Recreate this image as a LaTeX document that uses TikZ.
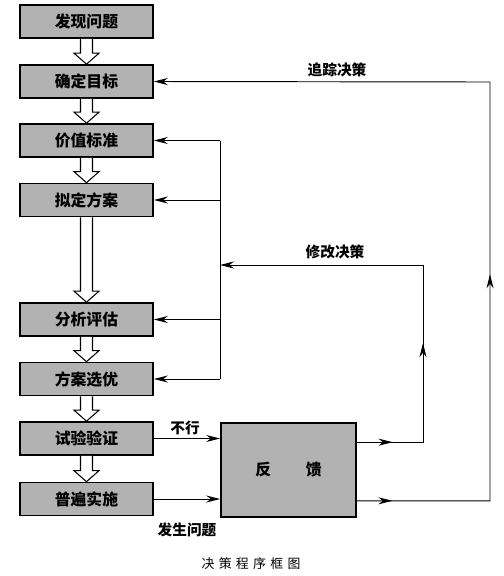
\documentclass[tikz,border=0pt]{standalone}
\usepackage{fontspec}
\newfontfamily\cjk{Noto Sans CJK SC}
\usetikzlibrary{arrows.meta,positioning,calc,decorations.markings}

% hollow block arrow from the bottom of one stage to the top of the next
\newcommand{\hollowarrow}[2]{%
  \draw[line width=0.9pt, fill=white]
    ($(#1.south)+(-6,0)$) -- ($(#2.north)+(-6,-11)$) -- ($(#2.north)+(-12.5,-11)$)
    -- (#2.north) -- ($(#2.north)+(12.5,-11)$) -- ($(#2.north)+(6,-11)$)
    -- ($(#1.south)+(6,0)$);}

\begin{document}
\begin{tikzpicture}[x=0.03cm, y=-0.03cm,
  font=\cjk\bfseries\fontsize{13.5}{15}\selectfont,
  stage/.style={draw, line width=1.4pt, fill=gray!60, inner sep=0pt,
                minimum width=3.99cm, minimum height=0.99cm},
  wire/.style={line width=0.8pt},
  flow/.style={wire, -{Stealth[length=4.2mm, width=2.1mm]}},
  twomarks/.style 2 args={postaction={decorate}, decoration={markings,
      mark=at position #1 with {\arrow{Stealth[length=4.2mm, width=2.1mm]}},
      mark=at position #2 with {\arrow{Stealth[length=4.2mm, width=2.1mm]}}}},
  lbl/.style={inner sep=1pt, font=\cjk\bfseries\fontsize{12.5}{14}\selectfont}]
  \useasboundingbox (0,0) rectangle (504,576);
  % main chain of stages
  \node[stage] (faxian)  at (86.5, 21.5) {发现问题};
  \node[stage] (queding) at (86.5, 81.5) {确定目标};
  \node[stage] (jiazhi)  at (86.5,140.5) {价值标准};
  \node[stage] (niding)  at (86.5,200.0) {拟定方案};
  \node[stage] (fenxi)   at (86.5,319.5) {分析评估};
  \node[stage] (xuanyou) at (86.5,379.0) {方案选优};
  \node[stage] (shiyan)  at (86.5,438.5) {试验验证};
  \node[stage] (pubian)  at (86.5,499.0) {普遍实施};
  \node[stage, minimum width=4.05cm, minimum height=2.82cm]
        (fankui) at (288.5,470) {反\hspace{2.2em}馈};
  \hollowarrow{faxian}{queding}
  \hollowarrow{queding}{jiazhi}
  \hollowarrow{jiazhi}{niding}
  \hollowarrow{niding}{fenxi}
  \hollowarrow{fenxi}{xuanyou}
  \hollowarrow{xuanyou}{shiyan}
  \hollowarrow{shiyan}{pubian}
  % into the feedback box
  \draw[flow] (shiyan.east) -- (shiyan.east -| fankui.west);
  \draw[flow] (pubian.east) -- (pubian.east -| fankui.west);
  \node[lbl] (buxing) at (185,428) {不行};
  \node[lbl] (fasheng) at (187,530) {发生问题};
  % inner loop back to stages 3-6
  \coordinate (loop) at (220,0);
  \draw[wire] (loop |- jiazhi) -- (loop |- xuanyou);
  \foreach \b in {jiazhi,niding,fenxi,xuanyou}
    \draw[flow] (loop |- \b) -- (\b.east);
  % revise decision
  \coordinate (o1) at ($(fankui.north east)+(0,20)$);
  \coordinate (k1) at (423,265);
  \draw[flow, twomarks={0.08}{0.37}] (o1) -| (k1) -- (loop |- k1);
  \node[lbl] (xiugai) at (335,252) {修改决策};
  % track decision
  \coordinate (o2) at ($(fankui.south east)+(0,-17)$);
  \coordinate (k2) at (490,82);
  \draw[flow, twomarks={0.04}{0.405}] (o2) -| (k2) -- (queding.east);
  \node[lbl] (zhuizong) at (337,70) {追踪决策};
  % caption
  \node[inner sep=0pt, font=\cjk\fontsize{11}{13}\selectfont] (title) at (251,564)
        {决\,\,策\,\,程\,\,序\,\,框\,\,图};
\end{tikzpicture}
\end{document}
